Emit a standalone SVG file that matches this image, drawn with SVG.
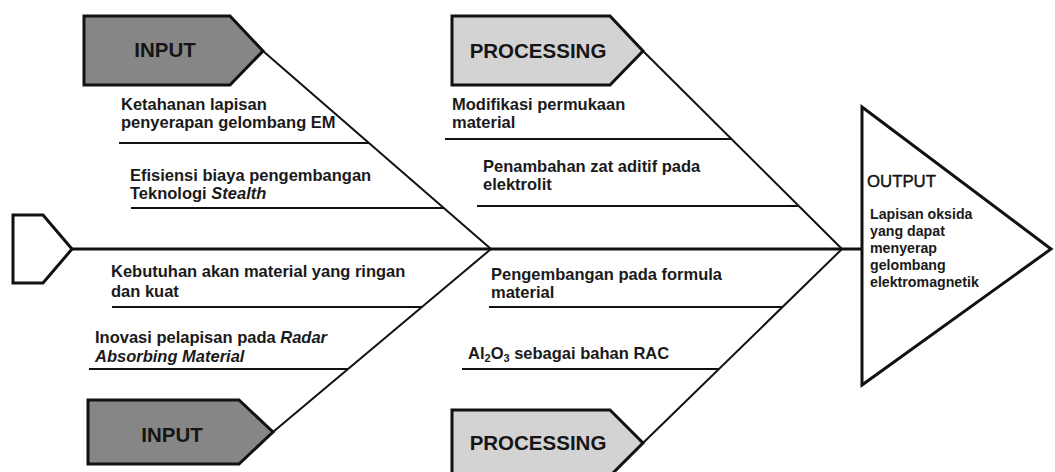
<svg xmlns="http://www.w3.org/2000/svg" width="1055" height="472" viewBox="0 0 1055 472">
<style>
.bg{fill:#fff}
.in{fill:#868686;stroke:#111;stroke-width:3;stroke-linejoin:miter}
.pr{fill:#d3d3d3;stroke:#111;stroke-width:3;stroke-linejoin:miter}
.wh{fill:#fff;stroke:#111;stroke-width:3;stroke-linejoin:miter}
.hd{font-family:"Liberation Sans",Arial,sans-serif;font-weight:bold;font-size:20.5px;fill:#151515}
.t{font-family:"Liberation Sans",Arial,sans-serif;font-weight:bold;font-size:16.5px;fill:#1a1a1a}
.o{font-family:"Liberation Sans",Arial,sans-serif;font-weight:bold;font-size:14.2px;fill:#1a1a1a}
.oh{font-family:"Liberation Sans",Arial,sans-serif;font-size:16.8px;fill:#111;stroke:#111;stroke-width:0.4}
.sp{stroke:#111;stroke-width:3;fill:none}
.ln{stroke:#111;stroke-width:2;fill:none}
</style>
<rect class="bg" x="0" y="0" width="1055" height="472"/>
<g id="connectors">
<line class="sp" x1="72" y1="249" x2="862" y2="249"/>
<line class="ln" x1="263" y1="51" x2="491" y2="249"/>
<line class="ln" x1="273" y1="432" x2="491" y2="249"/>
<line class="ln" x1="643" y1="51" x2="842" y2="249"/>
<line class="ln" x1="643" y1="443" x2="842" y2="249"/>
<line class="ln" x1="119" y1="143" x2="369" y2="143"/>
<line class="ln" x1="131" y1="208" x2="444" y2="208"/>
<line class="ln" x1="112" y1="307" x2="422" y2="307"/>
<line class="ln" x1="89" y1="369" x2="348" y2="369"/>
<line class="ln" x1="445" y1="139" x2="731" y2="139"/>
<line class="ln" x1="477" y1="206" x2="798" y2="206"/>
<line class="ln" x1="489" y1="307" x2="782" y2="307"/>
<line class="ln" x1="462" y1="369" x2="719" y2="369"/>
</g>
<g id="tail">
<polygon class="wh" points="13,215 43,215 72,249 43,283 13,283"/>
</g>
<g id="input-top">
<polygon class="in" points="84,16 230,16 263,51 230,85 84,85"/>
<text class="hd" x="165" y="57" text-anchor="middle">INPUT</text>
</g>
<g id="input-bottom">
<polygon class="in" points="88,400 239,400 273,432 239,464 88,464"/>
<text class="hd" x="172" y="442" text-anchor="middle">INPUT</text>
</g>
<g id="processing-top">
<polygon class="pr" points="452,16 610,16 643,51 610,85 452,85"/>
<text class="hd" x="538" y="58" text-anchor="middle">PROCESSING</text>
</g>
<g id="processing-bottom">
<polygon class="pr" points="452,410 610,410 643,443 610,476 452,476"/>
<text class="hd" x="538" y="450" text-anchor="middle">PROCESSING</text>
</g>
<g id="output">
<polygon class="wh" points="862,107 1051,249 862,385"/>
<text class="oh" x="867" y="187">OUTPUT</text>
<text class="o" x="870" y="219">Lapisan oksida</text>
<text class="o" x="870" y="236">yang dapat</text>
<text class="o" x="870" y="253">menyerap</text>
<text class="o" x="870" y="270">gelombang</text>
<text class="o" x="870" y="287">elektromagnetik</text>
</g>
<g id="cause1">
<text class="t" x="121" y="110">Ketahanan lapisan</text>
<text class="t" x="121" y="128">penyerapan gelombang EM</text>
</g>
<g id="cause2">
<text class="t" x="130" y="181">Efisiensi biaya pengembangan</text>
<text class="t" x="130" y="199">Teknologi <tspan font-style="italic">Stealth</tspan></text>
</g>
<g id="cause3">
<text class="t" x="111" y="277">Kebutuhan akan material yang ringan</text>
<text class="t" x="111" y="297">dan kuat</text>
</g>
<g id="cause4">
<text class="t" x="95" y="343">Inovasi pelapisan pada <tspan font-style="italic">Radar</tspan></text>
<text class="t" x="95" y="362" font-style="italic">Absorbing Material</text>
</g>
<g id="process1">
<text class="t" x="452" y="110">Modifikasi permukaan</text>
<text class="t" x="452" y="128">material</text>
</g>
<g id="process2">
<text class="t" x="483" y="172">Penambahan zat aditif pada</text>
<text class="t" x="483" y="190">elektrolit</text>
</g>
<g id="process3">
<text class="t" x="491" y="280">Pengembangan pada formula</text>
<text class="t" x="491" y="298">material</text>
</g>
<g id="process4">
<text class="t" x="468" y="359">Al<tspan font-size="11" dy="3">2</tspan><tspan dy="-3">O</tspan><tspan font-size="11" dy="3">3</tspan><tspan dy="-3"> sebagai bahan RAC</tspan></text>
</g>
</svg>
